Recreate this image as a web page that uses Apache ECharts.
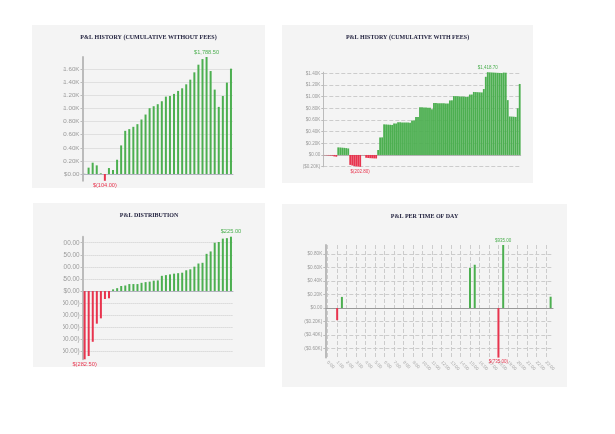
<!DOCTYPE html>
<html><head><meta charset="utf-8">
<script src="https://cdn.jsdelivr.net/npm/echarts@6/dist/echarts.min.js"></script>
<style>
html,body{margin:0;padding:0;background:#fff;width:615px;height:434px;overflow:hidden}
.panel{position:absolute;background:#f4f4f4}
.clip{position:absolute;top:0;bottom:0;right:0;overflow:hidden}
.chart{position:absolute;top:0}
</style></head><body>
<div class="panel" style="left:32px;top:25px;width:233px;height:163px">
 <div class="clip" style="left:30.5px"><div id="c1" class="chart" style="left:-30.5px;width:233px;height:163px"></div></div>
</div>
<div class="panel" style="left:282px;top:25px;width:251px;height:158px">
 <div id="c2" class="chart" style="left:0;width:251px;height:158px"></div>
</div>
<div class="panel" style="left:33px;top:203px;width:232px;height:164px">
 <div class="clip" style="left:29.5px"><div id="c3" class="chart" style="left:-29.5px;width:232px;height:164px"></div></div>
</div>
<div class="panel" style="left:282px;top:204px;width:285px;height:183px">
 <div id="c4" class="chart" style="left:0;width:285px;height:183px"></div>
</div>
<script>
// ---- data ----
var CUM_NO_FEES = [3, 97, 173, 132, 10, -104, 91, 61, 218, 437, 660, 686, 721, 762, 833, 909, 1006, 1036, 1067, 1112, 1183, 1193, 1224, 1270, 1310, 1371, 1442, 1554, 1671, 1757, 1788.5, 1574, 1290, 1026, 1193, 1397, 1610];
var CUM_WITH_FEES = [-3, -5, -8, -10, -12, -25, -30, 130, 128, 125, 122, 118, 112,
  -170, -180, -190, -195, -200, -202.8, -2, -3, -48, -52, -55, -57, -59, -60, 85, 300, 302,
  525, 523, 520, 518, 515, 540, 540, 560, 559, 558, 557, 556, 555, 552, 590, 592, 650, 652,
  820, 818, 815, 812, 810, 808, 785, 890, 889, 888, 887, 886, 885, 884, 883, 935, 937,
  1010, 1008, 1006, 1004, 1002, 1000, 998, 996, 1035, 1036, 1080, 1078, 1076, 1074, 1072,
  1130, 1340, 1418.7, 1416, 1414, 1412, 1410, 1408, 1406, 1404, 1412, 1410, 940,
  660, 658, 656, 652, 800, 1217];
var DISTRIBUTION = [-282.5, -269, -210, -135, -113, -33, -30, 7, 12, 21, 23, 29, 29, 29, 34, 37, 39, 43, 44, 63, 66, 69, 72, 74, 76, 86, 90, 101, 114, 117, 154, 164, 200, 203, 217, 219, 225];
var HOURS = ['0:00','0:30','1:00','1:30','2:00','2:30','3:00','3:30','4:00','4:30','5:00','5:30','6:00','6:30','7:00','7:30','8:00','8:30','9:00','9:30','10:00','10:30','11:00','11:30','12:00','12:30','13:00','13:30','14:00','14:30','15:00','15:30','16:00','16:30','17:00','17:30','18:00','18:30','19:00','19:30','20:00','20:30','21:00','21:30','22:00','22:30','23:00','23:30'];
var TIME_OF_DAY = [0,0,-180,165,0,0,0,0,0,0, 0,0,0,0,0,0,0,0,0,0, 0,0,0,0,0,0,0,0,0,0, 595,642,0,0,0,0,-735,935,0,0, 0,0,0,0,0,0,0,168];
var TITLES = ['P&L HISTORY (CUMULATIVE WITHOUT FEES)', 'P&L HISTORY (CUMULATIVE WITH FEES)', 'P&L DISTRIBUTION', 'P&L PER TIME OF DAY'];

// ---- styles ----
var GREEN = '#4caf50', RED = '#e8344e', LBL = '#9a9a9a';
var SANS = 'Liberation Sans';
function kfmt(v){ if (Math.abs(v) < 1e-9) return '$0.00'; var s = '$' + (Math.abs(v)/1000).toFixed(2) + 'K'; return v < 0 ? '(' + s + ')' : s; }
function dfmt(v){ if (Math.abs(v) < 1e-9) return '$0.00'; var s = '$' + Math.abs(v).toFixed(2); return v < 0 ? '(' + s + ')' : s; }
function money(v){ var s = Math.abs(v).toLocaleString('en-US', {minimumFractionDigits:2, maximumFractionDigits:2}); return v < 0 ? '$(' + s + ')' : '$' + s; }
function barItems(vals, fs){
  var mx = Math.max.apply(null, vals), mn = Math.min.apply(null, vals);
  var maxI = vals.indexOf(mx), minI = vals.indexOf(mn);
  return vals.map(function(v, i){
    var it = {value: v, itemStyle: {color: v < 0 ? RED : GREEN}};
    if (i === maxI) it.label = {show: true, position: 'top', distance: 2, color: GREEN, fontSize: fs, fontFamily: SANS, formatter: money(v)};
    if (i === minI) it.label = {show: true, position: 'bottom', distance: 2, color: RED, fontSize: fs, fontFamily: SANS, formatter: money(v)};
    return it;
  });
}
function title(t){ return {text: t, left: 'center', top: 9, padding: 0, textStyle: {fontFamily: 'Liberation Serif', fontWeight: 'bold', fontSize: 6, color: '#1d1d3a'}}; }
function yAxis(fs, fmt, axW, split, splitNumber){
  return {type: 'value', min: 'dataMin', max: 'dataMax', splitNumber: splitNumber,
    axisLine: {show: true, lineStyle: {color: '#bbb', width: axW}},
    axisTick: {show: true, length: 2, lineStyle: {color: '#bbb'}},
    axisLabel: {fontSize: fs, fontFamily: SANS, color: LBL, margin: 3, formatter: fmt, showMinLabel: false, showMaxLabel: false},
    splitLine: {show: true, showMinLine: false, showMaxLine: false, lineStyle: {type: split, color: '#cccccc', width: 1}}};
}
function catAxis(vals, lineColor){
  return {type: 'category', data: vals.map(function(_, i){ return i + 1; }),
    axisLine: {show: true, onZero: true, lineStyle: {color: lineColor}}, axisTick: {show: false}, axisLabel: {show: false}, splitLine: {show: false}};
}

// ---- panel 1 ----
echarts.init(document.getElementById('c1')).setOption({
  animation: false,
  title: title(TITLES[0]),
  grid: {left: 50.5, right: 32, top: 32, bottom: 7.2},
  xAxis: catAxis(CUM_NO_FEES, '#b4b4c0'),
  yAxis: yAxis(6.2, kfmt, 2, 'dotted', 9),
  series: [{type: 'bar', barWidth: 2, data: barItems(CUM_NO_FEES, 5.6)}]
});
// ---- panel 2 ----
echarts.init(document.getElementById('c2')).setOption({
  animation: false,
  title: title(TITLES[1]),
  grid: {left: 41.3, right: 12.3, top: 47.2, bottom: 16.2},
  xAxis: catAxis(CUM_WITH_FEES, '#b4b4b4'),
  yAxis: yAxis(4.6, kfmt, 1, 'dashed', 8),
  series: [{type: 'bar', barCategoryGap: '8%', data: barItems(CUM_WITH_FEES, 4.5)}]
});
// ---- panel 3 ----
echarts.init(document.getElementById('c3')).setOption({
  animation: false,
  title: title(TITLES[2]),
  grid: {left: 49.6, right: 32, top: 33.7, bottom: 7.7},
  xAxis: catAxis(DISTRIBUTION, '#b4b4c0'),
  yAxis: yAxis(6.4, dfmt, 2, 'dotted', 10),
  series: [{type: 'bar', barWidth: 2, data: barItems(DISTRIBUTION, 5.7)}]
});
// ---- panel 4 ----
var y4 = yAxis(4.7, kfmt, 2, 'dashed', 8);
echarts.init(document.getElementById('c4')).setOption({
  animation: false,
  title: title(TITLES[3]),
  grid: {left: 43.3, right: 14, top: 41, bottom: 29.4},
  xAxis: [
    {type: 'category', data: HOURS, boundaryGap: true,
     axisLine: {show: false, onZero: false}, axisTick: {show: false},
     axisLabel: {interval: 1, rotate: -45, fontSize: 4.5, fontFamily: SANS, color: '#aaa', margin: 4},
     splitLine: {show: true, interval: 1, alignWithLabel: true, lineStyle: {type: 'dashed', color: '#cccccc'}}},
    {type: 'category', data: HOURS, position: 'top',
     axisLine: {show: true, onZero: true, lineStyle: {color: '#999', width: 1.2}}, axisTick: {show: false}, axisLabel: {show: false}, splitLine: {show: false}}
  ],
  yAxis: y4,
  series: [{type: 'bar', barWidth: 2, xAxisIndex: 0, data: barItems(TIME_OF_DAY, 4.5)}]
});
</script>
</body></html>
